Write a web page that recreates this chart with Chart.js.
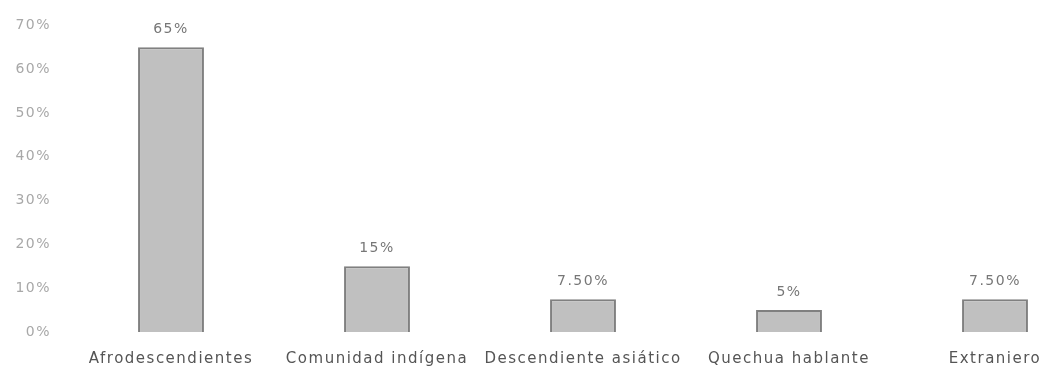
<!DOCTYPE html>
<html>
<head>
<meta charset="utf-8">
<script src="https://cdn.jsdelivr.net/npm/chart.js@4"></script>
<style>
  html, body { margin: 0; padding: 0; background: #fff; overflow: hidden; }
  #wrap { width: 1100px; height: 380px; }
</style>
</head>
<body>
<div id="wrap"><canvas id="chart" width="1100" height="380"></canvas></div>
<script>
// Categorías y valores (%)
const categories = ['Afrodescendientes', 'Comunidad indígena', 'Descendiente asiático', 'Quechua hablante', 'Extraniero'];
const values = [65, 15, 7.5, 5, 7.5];
const valueLabels = ['65%', '15%', '7.50%', '5%', '7.50%'];
const yTicks = [0, 10, 20, 30, 40, 50, 60, 70];

const FONT = 'DejaVu Sans';

// El texto del original es algo ancho: un poco de espaciado entre letras
const letterSpacingPlugin = {
  id: 'letterSpacing',
  beforeDraw(chart) { chart.ctx.letterSpacing = '1.5px'; }
};

// Etiquetas de valor encima de cada barra
const valueLabelPlugin = {
  id: 'valueLabels',
  afterDatasetsDraw(chart) {
    const ctx = chart.ctx;
    const meta = chart.getDatasetMeta(0);
    ctx.save();
    ctx.font = `14px "${FONT}"`;
    ctx.fillStyle = '#777';
    ctx.textAlign = 'center';
    ctx.textBaseline = 'middle';
    meta.data.forEach((bar, i) => {
      ctx.fillText(valueLabels[i], bar.x, bar.y - 18);
    });
    ctx.restore();
  }
};

new Chart(document.getElementById('chart'), {
  type: 'bar',
  data: {
    labels: categories,
    datasets: [{
      data: values,
      backgroundColor: '#c0c0c0',
      borderColor: '#808080',
      borderWidth: 2,
      categoryPercentage: 1,
      barPercentage: 0.32
    }]
  },
  options: {
    responsive: false,
    animation: false,
    layout: { padding: { top: 20, right: 2, left: 0, bottom: 0 } },
    plugins: {
      legend: { display: false },
      tooltip: { enabled: false }
    },
    scales: {
      x: {
        grid: { display: false, drawTicks: false },
        border: { display: false },
        ticks: { color: '#555', font: { family: FONT, size: 15 }, padding: 18, maxRotation: 0, autoSkip: false },
        afterFit(scale) { scale.height = 48; }
      },
      y: {
        min: 0,
        max: 70,
        grid: { display: false, drawTicks: false },
        border: { display: false },
        afterBuildTicks(scale) { scale.ticks = yTicks.map(v => ({ value: v })); },
        ticks: {
          color: '#a8a8a8',
          font: { family: FONT, size: 14 },
          padding: 17,
          callback: v => v + '%'
        },
        afterFit(scale) { scale.width = 68; }
      }
    }
  },
  plugins: [letterSpacingPlugin, valueLabelPlugin]
});
</script>
</body>
</html>
